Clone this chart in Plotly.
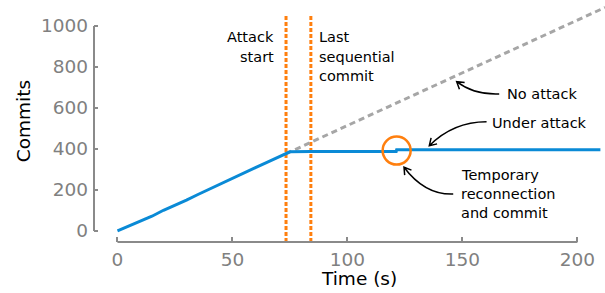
import math
import plotly.graph_objects as go

# ---------------- data ----------------
time_under_attack = [0, 5, 10, 15, 20, 25, 30, 35, 40, 45, 50, 55, 60, 65, 70, 73.3, 75, 84, 121.2, 121.4, 210]
commits_under_attack = [0, 24, 47, 72, 101, 125, 151, 178, 205, 229, 255, 283, 309, 335, 361, 377, 386, 388, 388, 396, 396]

time_no_attack = [73.3, 212]
commits_no_attack = [377, 1090]

attack_start = 73.3
last_sequential_commit = 84.1
reconnection_time = 121.4
reconnection_commits = 392

x_ticks = [0, 50, 100, 150, 200]
y_ticks = [0, 200, 400, 600, 800, 1000]

# ---------------- layout geometry ----------------
W, H = 605, 293
M_L, M_R, M_T, M_B = 94, 0, 5, 51
X_RANGE = [-10.2, 212]
Y_RANGE = [-53.7, 1102]
PW, PH = W - M_L - M_R, H - M_T - M_B
KX = PW / (X_RANGE[1] - X_RANGE[0])   # px per x unit
KY = PH / (Y_RANGE[1] - Y_RANGE[0])   # px per y unit

BLUE = "#0a8ad6"
ORANGE = "#ff7f0e"
GREYL = "#a6a6a6"
AXC = "#8a8a8a"
FONT = "DejaVu Sans"

fig = go.Figure()

# vertical markers
for xv in [attack_start, last_sequential_commit]:
    fig.add_trace(go.Scatter(x=[xv, xv], y=[Y_RANGE[0], 1050], mode="lines",
                             line=dict(color=ORANGE, width=3, dash="4px,2px"),
                             hoverinfo="skip", showlegend=False))

fig.add_trace(go.Scatter(x=time_no_attack, y=commits_no_attack, mode="lines",
                         line=dict(color=GREYL, width=3, dash="6px,4px"),
                         showlegend=False))
fig.add_trace(go.Scatter(x=time_under_attack, y=commits_under_attack, mode="lines",
                         line=dict(color=BLUE, width=3), showlegend=False))

shapes = []
# circle around temporary reconnection (radius in px)
R = 14
shapes.append(dict(type="circle", xref="x", yref="y",
                   x0=reconnection_time - R / KX, x1=reconnection_time + R / KX,
                   y0=reconnection_commits - R / KY, y1=reconnection_commits + R / KY,
                   line=dict(color=ORANGE, width=2.5)))

# offset spines
shapes.append(dict(type="line", xref="paper", yref="y", x0=0, x1=0, y0=0, y1=1000,
                   line=dict(color=AXC, width=2)))
shapes.append(dict(type="line", xref="x", yref="paper", x0=0, x1=200, y0=0, y1=0,
                   line=dict(color=AXC, width=2)))


def curved_arrow(tail, ctrl, tip, head=8, ang=32):
    # direction of arrival, in pixel space
    dx = (tip[0] - ctrl[0]) * KX
    dy = (tip[1] - ctrl[1]) * KY
    n = math.hypot(dx, dy)
    dx, dy = dx / n, dy / n
    pts = []
    for s in (1, -1):
        a = math.radians(ang * s)
        rx = dx * math.cos(a) - dy * math.sin(a)
        ry = dx * math.sin(a) + dy * math.cos(a)
        pts.append((tip[0] - head * rx / KX, tip[1] - head * ry / KY))
    p = (f"M {tail[0]},{tail[1]} Q {ctrl[0]},{ctrl[1]} {tip[0]},{tip[1]} "
         f"M {pts[0][0]},{pts[0][1]} L {tip[0]},{tip[1]} L {pts[1][0]},{pts[1][1]}")
    return dict(type="path", xref="x", yref="y", path=p,
                line=dict(color="black", width=1.5))


shapes.append(curved_arrow((166.0, 668), (155.0, 663), (147.5, 728)))
shapes.append(curved_arrow((160.5, 533), (146.0, 533), (135.6, 416)))
shapes.append(curved_arrow((146.0, 180), (133.7, 175), (124.6, 311)))

annotations = []


def txt(s, x, y, xanchor="left"):
    annotations.append(dict(text=s, x=x, y=y, xref="x", yref="y", showarrow=False,
                            xanchor=xanchor, yanchor="middle",
                            font=dict(family=FONT, size=14.5, color="black")))


txt("Attack", 68.9, 944, "right")
txt("start", 68.9, 849, "right")
txt("Last", 86.9, 944)
txt("sequential", 86.9, 849)
txt("commit", 86.9, 754)
txt("No attack", 168.5, 670)
txt("Under attack", 162.0, 526)
txt("Temporary", 148.6, 273)
txt("reconnection", 148.6, 180)
txt("and commit", 148.6, 86)

# axis titles
annotations.append(dict(text="Commits", xref="paper", yref="y", x=(23 - M_L) / PW, y=535,
                        showarrow=False, textangle=-90, xanchor="center", yanchor="middle",
                        font=dict(family=FONT, size=18.5, color="black")))
annotations.append(dict(text="Time (s)", xref="x", yref="paper", x=105, y=(242 - 278) / PH,
                        showarrow=False, xanchor="center", yanchor="middle",
                        font=dict(family=FONT, size=18.5, color="black")))

fig.update_layout(
    width=W, height=H,
    margin=dict(l=M_L, r=M_R, t=M_T, b=M_B, autoexpand=False),
    paper_bgcolor="white", plot_bgcolor="white",
    shapes=shapes, annotations=annotations,
    font=dict(family=FONT),
    xaxis=dict(range=X_RANGE, tickvals=x_ticks, ticktext=[str(v) for v in x_ticks],
               showgrid=False, zeroline=False, showline=False, automargin=False,
               ticks="inside", ticklen=5, tickwidth=2, tickcolor=AXC,
               ticklabelstandoff=4,
               tickfont=dict(family=FONT, size=18.5, color="#808080")),
    yaxis=dict(range=Y_RANGE, tickvals=y_ticks, ticktext=[str(v) for v in y_ticks],
               showgrid=False, zeroline=False, showline=False, automargin=False,
               ticks="inside", ticklen=4, tickwidth=2, tickcolor=AXC,
               ticklabelstandoff=5,
               tickfont=dict(family=FONT, size=18.5, color="#808080")),
)

fig.write_html("out.html", config={"displayModeBar": False},
               post_script="document.body.style.margin='0';document.body.style.overflow='hidden';")
